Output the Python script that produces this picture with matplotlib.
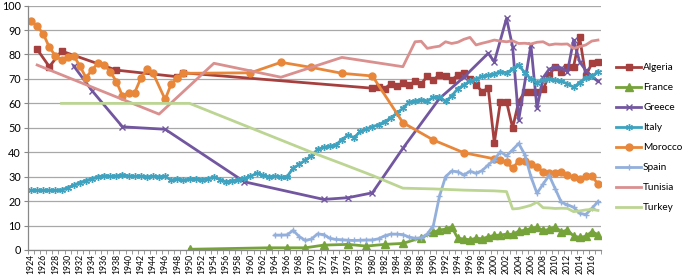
import matplotlib.pyplot as plt
from matplotlib.ticker import MultipleLocator
import numpy as np

plt.rcParams['font.family'] = ['Lato', 'DejaVu Sans']

algeria_years = [1925, 1927, 1929, 1938, 1948, 1949] + list(range(1980, 2018))
algeria_vals = [82.1, 75.0, 81.4, 73.6, 70.9, 72.5,
                66.2, 66.8, 66.0, 68.0, 67.0, 68.3, 67.5, 69.0, 68.0, 71.0,
                69.5, 71.8, 71.0, 69.6, 71.5, 72.3, 70.0, 67.5, 64.8, 66.2,
                43.8, 60.7, 60.7, 50.0, 60.7, 64.8, 64.5, 64.8, 65.7, 71.6,
                75.0, 73.0, 75.0, 75.0, 87.0, 71.2, 76.4, 77.0]

france_years = [1950, 1963, 1966, 1969, 1972, 1976, 1979, 1982, 1985, 1988,
                1990, 1991, 1992, 1993] + list(range(1994, 2018))
france_vals = [0.3, 0.9, 0.9, 0.9, 2.0, 2.3, 1.6, 2.3, 2.7, 5.0,
               7.2, 8.2, 8.5, 9.5,
               4.8, 4.5, 4.2, 4.8, 4.6, 5.4, 6.0, 6.1, 6.5, 6.4,
               7.7, 8.1, 8.8, 9.3, 8.0, 8.4, 9.5, 7.4, 8.2, 5.7,
               5.2, 5.6, 7.5, 6.3]

greece_years = [1931, 1934, 1939, 1946, 1959, 1972, 1976, 1980, 1985, 1991,
                1995, 1999, 2000, 2002, 2003, 2004, 2006, 2007, 2008, 2009,
                2010, 2011, 2012, 2013, 2014, 2015, 2016, 2017]
greece_vals = [75.3, 65.2, 50.4, 49.4, 27.9, 20.7, 21.4, 23.4, 41.6, 62.0,
               70.7, 80.5, 77.0, 94.8, 83.2, 53.2, 83.9, 58.0, 70.5, 74.0,
               75.0, 74.5, 73.0, 85.9, 77.0, 73.5, 71.0, 69.0]

italy_years = list(range(1924, 2018))
italy_vals = [24.4, 24.4, 24.4, 24.4, 24.4, 24.6, 25.5, 26.5, 27.6, 28.4,
              29.2, 30.0, 30.4, 30.1, 30.3, 30.8, 30.3, 30.1, 30.2, 30.0,
              30.1, 30.0, 30.2, 28.5, 28.9, 28.6, 28.9, 29.0, 28.8, 29.1,
              29.9, 28.8, 27.9, 28.4, 28.6, 29.3, 30.1, 31.4, 30.6, 30.0,
              30.2, 29.8, 30.0, 33.5, 35.0, 36.8, 38.5, 41.2, 42.0, 42.5,
              43.0, 45.2, 47.0, 46.0, 48.5, 49.5, 50.5, 51.2, 52.5, 54.0,
              56.0, 58.0, 60.5, 61.0, 61.5, 61.0, 62.5, 62.7, 60.8, 63.0,
              66.0, 67.5, 69.0, 70.0, 71.0, 71.5, 72.0, 73.0, 72.5, 74.0,
              75.7, 72.5, 70.0, 68.5, 69.5, 70.0, 69.6, 69.0, 68.0, 66.6,
              68.5, 70.5, 71.0, 73.0]

morocco_years = list(range(1924, 1945)) + [1946, 1947, 1948, 1949,
                 1960, 1965, 1970, 1975, 1980, 1985, 1990, 1995] + list(range(2000, 2018))
morocco_vals = [93.7, 91.6, 88.4, 83.0, 79.4, 77.8, 79.0, 79.4, 75.4, 70.5,
                73.6, 76.6, 75.7, 73.0, 68.9, 63.0, 64.4, 64.4, 70.2, 73.9,
                72.4, 61.6, 68.0, 70.2, 72.3,
                72.5, 76.8, 74.7, 72.3, 71.2, 52.1, 45.0, 39.8,
                37.3, 36.7, 36.0, 33.4, 36.5, 36.3, 35.3, 34.0, 32.0, 31.6,
                31.6, 32.0, 30.7, 29.7, 28.9, 30.3, 30.3, 27.0]

spain_years = list(range(1964, 2018))
spain_vals = [6.1, 6.1, 6.2, 8.0, 5.5, 3.9, 4.5, 6.6, 6.3, 4.8,
              4.3, 4.2, 4.0, 3.9, 4.0, 4.1, 4.1, 4.6, 5.8, 6.5,
              6.5, 6.3, 5.3, 4.8, 5.0, 6.5, 10.0, 22.0, 30.0, 32.3,
              32.0, 30.7, 32.2, 31.4, 32.5, 34.8, 37.0, 40.2, 38.5, 41.0,
              43.6, 39.0, 30.0, 23.2, 27.0, 30.5, 25.0, 19.5, 18.5, 17.5,
              15.0, 14.5, 17.0, 19.8]

tunisia_years = [1925, 1945, 1954, 1965, 1975, 1985] + list(range(1987, 2018))
tunisia_vals = [75.7, 55.6, 76.4, 70.7, 78.8, 75.0,
                85.2, 85.4, 82.5, 83.0, 83.4, 85.2, 84.5, 85.0, 86.2, 87.0,
                83.9, 84.6, 85.2, 85.9, 85.5, 85.2, 85.6, 84.5, 84.6, 84.3,
                85.0, 85.2, 83.9, 84.3, 84.2, 84.3, 82.5, 83.2, 83.9, 85.5,
                85.9]

turkey_years = [1929, 1950, 1955, 1960, 1965, 1970, 1975, 1980, 1985, 1990,
                1995, 2000, 2002] + list(range(2003, 2018))
turkey_vals = [60.0, 60.0, 55.0, 50.0, 45.0, 40.0, 35.3, 30.5, 25.3, 25.0,
               24.5, 24.2, 23.9,
               16.8, 17.0, 17.6, 18.3, 19.6, 17.3, 17.2, 17.0, 17.1, 17.0,
               15.7, 16.0, 16.4, 16.6, 16.2]

series = [
    ("Algeria", algeria_years, algeria_vals, "#A5403E", "s", 5.0),
    ("France", france_years, france_vals, "#77A33B", "^", 5.5),
    ("Greece", greece_years, greece_vals, "#7257A0", "x", 5.0),
    ("Italy", italy_years, italy_vals, "#3FA2BF", (6, 2, 0), 5.0),
    ("Morocco", morocco_years, morocco_vals, "#E8873A", "o", 5.0),
    ("Spain", spain_years, spain_vals, "#93AFDB", "+", 5.0),
    ("Tunisia", tunisia_years, tunisia_vals, "#D9908F", None, 0),
    ("Turkey", turkey_years, turkey_vals, "#BCD593", None, 0),
]

fig = plt.figure(figsize=(6.85, 2.75), dpi=100)
ax = fig.add_axes([28 / 685, 1 - 250 / 275, 573 / 685, 244.4 / 275])

for name, yrs, vals, color, marker, ms in series:
    ax.plot(yrs, vals, color=color, lw=2.0, marker=marker, markersize=ms,
            markeredgewidth=1.0, markerfacecolor=color, markeredgecolor=color,
            label=name, solid_joinstyle="round")

ax.set_xlim(1923.5, 2017.5)
ax.set_ylim(0, 100)
ax.yaxis.set_major_locator(MultipleLocator(10))
ax.grid(axis="y", color="#A8A8A8", lw=0.9)
ax.set_axisbelow(True)

ax.set_xticks(np.arange(1924, 2017, 2))
ax.set_xticklabels([str(y) for y in range(1924, 2017, 2)], rotation=90, fontsize=6.2)
ax.set_xticks(np.arange(1923.5, 2018, 1), minor=True)
ax.tick_params(axis="x", which="major", length=0, pad=3)
ax.tick_params(axis="x", which="minor", length=3, color="#888888")
ax.tick_params(axis="y", length=3, color="#888888", labelsize=7.8, pad=2)

for side in ["top", "right"]:
    ax.spines[side].set_visible(False)
for side in ["left", "bottom"]:
    ax.spines[side].set_color("#888888")
    ax.spines[side].set_linewidth(0.9)

fig.legend(loc="center left", bbox_to_anchor=(616 / 685, 1 - 137.5 / 275),
           frameon=False, fontsize=7.2, handlelength=2.5, handletextpad=0.2,
           labelspacing=1.1, borderpad=0, borderaxespad=0)

fig.savefig("out.png", dpi=100)
